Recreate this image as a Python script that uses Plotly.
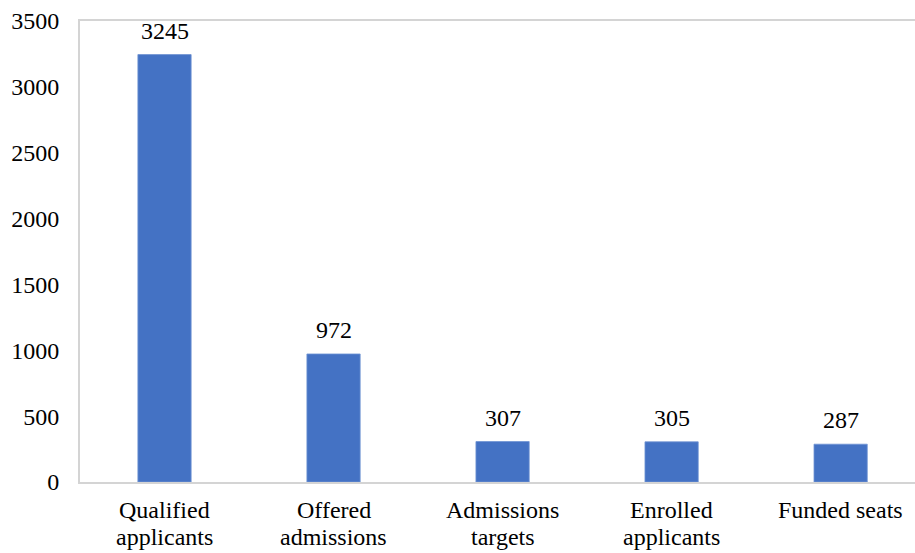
import plotly.graph_objects as go

categories = ["Qualified<br>applicants", "Offered<br>admissions", "Admissions<br>targets",
              "Enrolled<br>applicants", "Funded seats"]
values = [3245, 972, 307, 305, 287]
y_ticks = [0, 500, 1000, 1500, 2000, 2500, 3000, 3500]

FONT = "'Liberation Serif', 'Times New Roman', serif"
AXIS_GRAY = "#d4d4d4"
TEXT_FONT = dict(family=FONT, size=24, color="#000000")

fig = go.Figure(
    go.Bar(
        x=list(range(len(categories))),
        y=values,
        width=0.315,
        marker=dict(color="#4472C4", line=dict(color="#6f93d3", width=0.8)),
        hoverinfo="skip",
    )
)

# value labels above each bar
for i, v in enumerate(values):
    fig.add_annotation(
        x=i, y=v, text=str(v), showarrow=False,
        yanchor="middle", yshift=24, font=TEXT_FONT,
    )

# category labels under the axis, one annotation per text line for tighter leading
for i, cat in enumerate(categories):
    for k, line in enumerate(cat.split("<br>")):
        fig.add_annotation(
            x=i, xref="x", y=0, yref="paper", text=line, showarrow=False,
            yanchor="middle", yshift=-28 - 27 * k, font=TEXT_FONT,
        )

fig.update_layout(
    width=915, height=553,
    margin=dict(l=80, r=0, t=21, b=71),
    paper_bgcolor="white", plot_bgcolor="white",
    showlegend=False,
    font=TEXT_FONT,
    xaxis=dict(
        range=[-0.5, 4.44],
        showticklabels=False,
        showgrid=False, zeroline=False,
        showline=True, linecolor=AXIS_GRAY, linewidth=2, mirror=True,
        ticks="",
    ),
    yaxis=dict(
        range=[0, 3500],
        tickvals=y_ticks,
        showgrid=False, zeroline=False,
        showline=True, linecolor=AXIS_GRAY, linewidth=2,
        ticks="", ticklabelstandoff=14,
        tickfont=TEXT_FONT,
    ),
)

fig.write_html("out.html")
